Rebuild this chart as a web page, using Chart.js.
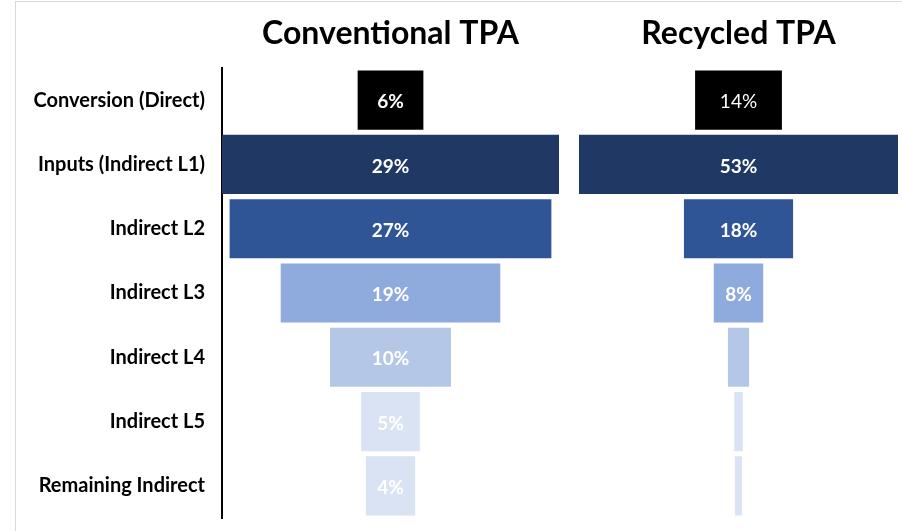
<!DOCTYPE html>
<html>
<head>
<meta charset="utf-8">
<script src="https://cdn.jsdelivr.net/npm/chart.js@4.4.1/dist/chart.umd.min.js"></script>
<style>
    body { margin: 0; background: #fff; }
    #wrap { position: relative; width: 902px; height: 531px; overflow: hidden; }
    #frame { position: absolute; left: 15px; top: 1px; width: 900px; height: 540px;
             border-top: 1px solid #d9d9d9; border-left: 1px solid #d9d9d9; }
    canvas { position: absolute; left: 0; top: 0; }
</style>
</head>
<body>
<div id="wrap">
    <div id="frame"></div>
    <canvas id="convChart" width="902" height="531"></canvas>
    <canvas id="recChart" width="902" height="531"></canvas>
</div>
<script>
const categories = ['Conversion (Direct)', 'Inputs (Indirect L1)', 'Indirect L2', 'Indirect L3', 'Indirect L4', 'Indirect L5', 'Remaining Indirect'];
const conventionalValues = [5.6, 28.7, 27.4, 18.7, 10.3, 5.0, 4.2];
const recycledValues = [14.4, 52.9, 18.1, 8.2, 3.5, 1.4, 1.2];
const chartTitles = ['Conventional TPA', 'Recycled TPA'];

const barColors = ['#000000', '#203864', '#2f5597', '#8faadc', '#b4c7e7', '#dae3f3', '#dae3f3'];
const fontName = 'Lato, "Open Sans", sans-serif';

// Draw the % label in the middle of each bar (only if it fits)
const barLabels = {
    id: 'barLabels',
    afterDatasetsDraw(chart, args, opts) {
        const ctx = chart.ctx;
        const values = chart.data.datasets[0].raw;
        const meta = chart.getDatasetMeta(0);
        ctx.save();
        ctx.textAlign = 'center';
        ctx.textBaseline = 'middle';
        ctx.fillStyle = '#ffffff';
        meta.data.forEach((bar, i) => {
            const text = Math.round(values[i]) + '%';
            const weight = (opts.normalIndex === i) ? 'normal' : 'bold';
            ctx.font = weight + ' 19px ' + fontName;
            const w = Math.abs(bar.x - bar.base);
            if (ctx.measureText(text).width + 6 > w) return;
            ctx.fillText(text, (bar.x + bar.base) / 2, bar.y + 2);
        });
        ctx.restore();
    }
};

function makeFunnel(canvasId, title, values, half, padding, showAxis, normalIndex) {
    return new Chart(document.getElementById(canvasId).getContext('2d'), {
        type: 'bar',
        data: {
            labels: categories,
            datasets: [{
                data: values.map(v => [-v / 2, v / 2]),
                raw: values,
                backgroundColor: barColors,
                borderWidth: 0,
                barPercentage: 0.92,
                categoryPercentage: 1.0
            }]
        },
        options: {
            indexAxis: 'y',
            responsive: false,
            animation: false,
            events: [],
            layout: { padding: padding },
            scales: {
                x: {
                    display: false,
                    min: -half,
                    max: half
                },
                y: {
                    display: showAxis,
                    grid: { display: false },
                    border: { display: true, color: '#000000', width: 2 },
                    ticks: {
                        color: '#000000',
                        padding: 9,
                        font: { family: fontName, size: 20, weight: 'bold' }
                    },
                    afterFit: (scale) => {
                        scale.width = showAxis ? 222 : 0;
                        scale.paddingTop = 0;
                        scale.paddingBottom = 0;
                    }
                }
            },
            plugins: {
                legend: { display: false },
                tooltip: { enabled: false },
                title: {
                    display: true,
                    text: title,
                    fullSize: false,
                    color: '#000000',
                    font: { family: fontName, size: 32, weight: 'bold' },
                    padding: { top: 14, bottom: 15.6 }
                },
                barLabels: { normalIndex: normalIndex }
            }
        },
        plugins: [barLabels]
    });
}

makeFunnel('convChart', chartTitles[0], conventionalValues, 14.35, { left: 0, right: 343, top: 0, bottom: 13 }, true, -1);
makeFunnel('recChart', chartTitles[1], recycledValues, 26.45, { left: 579, right: 4, top: 0, bottom: 13 }, false, 0);
</script>
</body>
</html>
